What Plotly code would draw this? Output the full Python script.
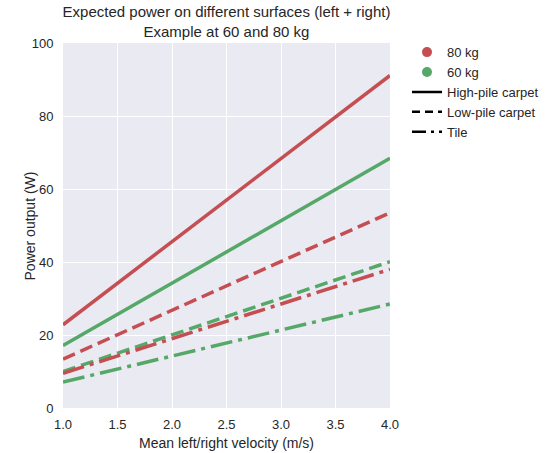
import plotly.graph_objects as go

velocity = [1.0, 4.0]
p80_high = [22.8, 91.1]
p60_high = [17.1, 68.4]
p80_low = [13.4, 53.5]
p60_low = [10.0, 40.1]
p80_tile = [9.5, 38.0]
p60_tile = [7.1, 28.5]

RED = "#C44E52"
GREEN = "#55A868"
FONT = "Liberation Sans, Arial, sans-serif"
DASH = "13px,6px"
DASHDOT = "22px,6px,4px,6px"

fig = go.Figure()
series = [
    (p80_high, RED, "solid"),
    (p60_high, GREEN, "solid"),
    (p80_low, RED, DASH),
    (p60_low, GREEN, DASH),
    (p80_tile, RED, DASHDOT),
    (p60_tile, GREEN, DASHDOT),
]
for ys, col, dash in series:
    fig.add_trace(go.Scatter(x=velocity, y=ys, mode="lines",
                             line=dict(color=col, width=3.5, dash=dash),
                             showlegend=False, hoverinfo="skip"))

# legend entries
fig.add_trace(go.Scatter(x=[None], y=[None], mode="markers", name="80 kg",
                         marker=dict(color=RED, size=10)))
fig.add_trace(go.Scatter(x=[None], y=[None], mode="markers", name="60 kg",
                         marker=dict(color=GREEN, size=10)))
fig.add_trace(go.Scatter(x=[None], y=[None], mode="lines", name="High-pile carpet",
                         line=dict(color="black", width=2.5)))
fig.add_trace(go.Scatter(x=[None], y=[None], mode="lines", name="Low-pile carpet",
                         line=dict(color="black", width=2.5, dash="8px,5px")))
fig.add_trace(go.Scatter(x=[None], y=[None], mode="lines", name="Tile",
                         line=dict(color="black", width=2.5, dash="14px,5px,3px,5px")))

fig.update_layout(
    width=552, height=453,
    margin=dict(l=63, r=162, t=43, b=45, autoexpand=False),
    paper_bgcolor="white",
    plot_bgcolor="#EAEAF2",
    font=dict(family=FONT, size=13, color="#262626"),
    title=dict(text="Expected power on different surfaces (left + right)<br>Example at 60 and 80 kg",
               x=0.5, xref="paper", xanchor="center",
               y=0.971, yref="container", yanchor="top", pad=dict(t=4),
               font=dict(family=FONT, size=15, color="#262626")),
    xaxis=dict(range=[1.0, 4.0], tickmode="array", automargin=False,
               tickvals=[1.0, 1.5, 2.0, 2.5, 3.0, 3.5, 4.0],
               ticktext=["1.0", "1.5", "2.0", "2.5", "3.0", "3.5", "4.0"],
               showgrid=True, gridcolor="white", gridwidth=1.2, zeroline=False,
               showline=False, ticks="outside", ticklen=4, tickcolor="rgba(0,0,0,0)",
               title=dict(text="Mean left/right velocity (m/s)", font=dict(size=14), standoff=7),
               tickfont=dict(size=13)),
    yaxis=dict(range=[0, 100], tickmode="array", tickvals=[0, 20, 40, 60, 80, 100],
               automargin=False,
               showgrid=True, gridcolor="white", gridwidth=1.2, zeroline=False,
               showline=False, ticks="outside", ticklen=6, tickcolor="rgba(0,0,0,0)",
               tickfont=dict(size=13)),
    annotations=[dict(text="Power output (W)", xref="paper", yref="paper",
                      x=-0.101, y=0.5, xanchor="center", yanchor="middle",
                      textangle=-90, showarrow=False,
                      font=dict(family=FONT, size=14, color="#262626"))],
    legend=dict(x=1.052, xanchor="left", y=1.016, yanchor="top",
                bgcolor="rgba(0,0,0,0)", font=dict(size=13, color="#262626"),
                tracegroupgap=0, itemwidth=30),
    showlegend=True,
)

fig.write_html("out.html", config={"displayModeBar": False},
               post_script="document.body.style.margin='0';document.body.style.padding='0';")
